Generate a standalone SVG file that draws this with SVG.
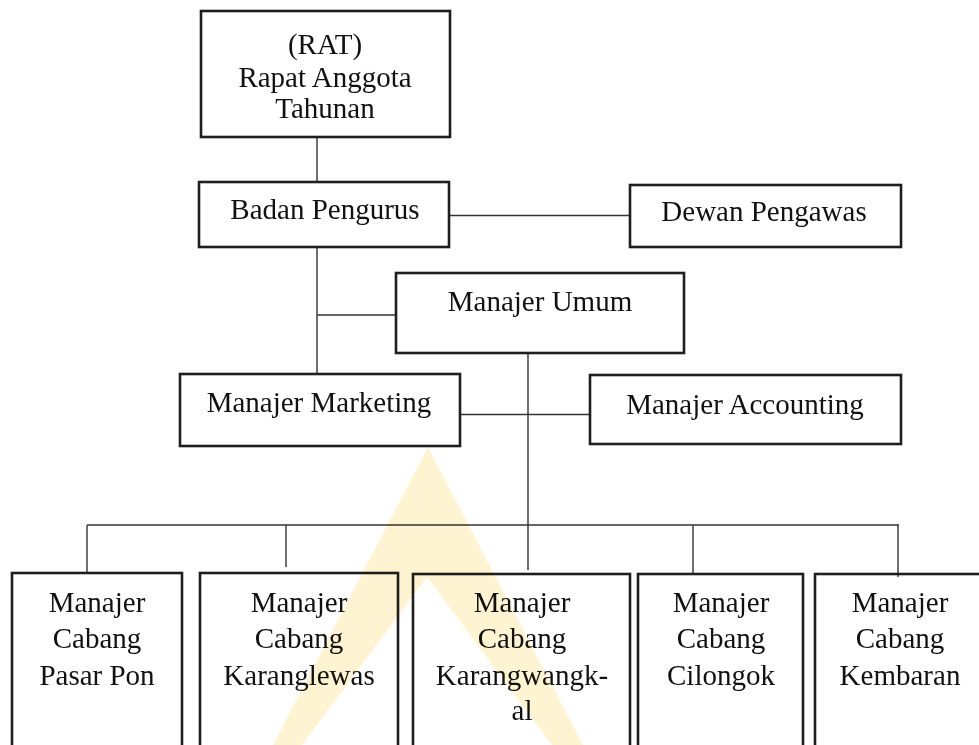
<svg xmlns="http://www.w3.org/2000/svg" width="979" height="745" viewBox="0 0 979 745">
  <style>
    .box { fill: none; stroke: #1e1e1e; stroke-width: 2.6; }
    .lbl { font-family: "Liberation Serif", "Times New Roman", serif; font-size: 29px; fill: #111; text-anchor: middle; }
    .con { fill: none; stroke: #333; stroke-width: 1.4; }
    .wm { fill: #fff4d2; mix-blend-mode: multiply; }
  </style>
  <rect width="979" height="745" fill="#fff"/>

  <g id="connectors">
    <path class="con" d="M317,137 V182"/>
    <path class="con" d="M449,215.5 H630"/>
    <path class="con" d="M317,247 V374"/>
    <path class="con" d="M317,315 H396"/>
    <path class="con" d="M528,353 V570"/>
    <path class="con" d="M460,414.5 H590"/>
    <path class="con" d="M87,525 H899"/>
    <path class="con" d="M87,525 V572"/>
    <path class="con" d="M286,525 V567"/>
    <path class="con" d="M693,525 V574"/>
    <path class="con" d="M898,525 V577"/>
  </g>

  <g id="rat">
    <rect class="box" x="201" y="11" width="249" height="126"/>
    <text class="lbl" x="325" y="54">(RAT)</text>
    <text class="lbl" x="325" y="87">Rapat Anggota</text>
    <text class="lbl" x="325" y="118">Tahunan</text>
  </g>

  <g id="badan-pengurus">
    <rect class="box" x="199" y="182" width="250" height="65"/>
    <text class="lbl" x="325" y="219">Badan Pengurus</text>
  </g>

  <g id="dewan-pengawas">
    <rect class="box" x="630" y="185" width="271" height="62"/>
    <text class="lbl" x="764" y="221">Dewan Pengawas</text>
  </g>

  <g id="manajer-umum">
    <rect class="box" x="396" y="273" width="288" height="80"/>
    <text class="lbl" x="540" y="311">Manajer Umum</text>
  </g>

  <g id="manajer-marketing">
    <rect class="box" x="180" y="374" width="280" height="72"/>
    <text class="lbl" x="319" y="412">Manajer Marketing</text>
  </g>

  <g id="manajer-accounting">
    <rect class="box" x="590" y="375" width="311" height="69"/>
    <text class="lbl" x="745" y="414">Manajer Accounting</text>
  </g>

  <g id="cabang-pasar-pon">
    <rect class="box" x="12" y="573" width="170" height="200"/>
    <text class="lbl" x="97" y="612">Manajer</text>
    <text class="lbl" x="97" y="648">Cabang</text>
    <text class="lbl" x="97" y="685">Pasar Pon</text>
  </g>

  <g id="cabang-karanglewas">
    <rect class="box" x="200" y="573" width="198" height="200"/>
    <text class="lbl" x="299" y="612">Manajer</text>
    <text class="lbl" x="299" y="648">Cabang</text>
    <text class="lbl" x="299" y="685">Karanglewas</text>
  </g>

  <g id="cabang-karangwangkal">
    <rect class="box" x="413" y="574" width="217" height="200"/>
    <text class="lbl" x="522" y="612">Manajer</text>
    <text class="lbl" x="522" y="648">Cabang</text>
    <text class="lbl" x="522" y="685">Karangwangk-</text>
    <text class="lbl" x="522" y="720">al</text>
  </g>

  <g id="cabang-cilongok">
    <rect class="box" x="638" y="574" width="165" height="200"/>
    <text class="lbl" x="721" y="612">Manajer</text>
    <text class="lbl" x="721" y="648">Cabang</text>
    <text class="lbl" x="721" y="685">Cilongok</text>
  </g>

  <g id="cabang-kembaran">
    <rect class="box" x="815" y="574" width="180" height="200"/>
    <text class="lbl" x="900" y="612">Manajer</text>
    <text class="lbl" x="900" y="648">Cabang</text>
    <text class="lbl" x="900" y="685">Kembaran</text>
  </g>

  <path class="wm" d="M428,447 L583,745 L552,745 L427,577 L302,745 L273,745 Z"/>
</svg>
